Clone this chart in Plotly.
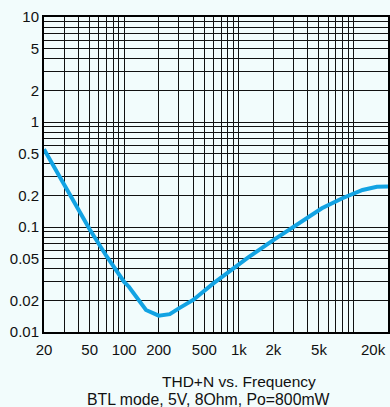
import math
import plotly.graph_objects as go

# Data
freq_hz = [20, 30, 40, 50, 70, 100, 110, 155, 200, 250, 300, 400, 600, 800,
           1200, 2000, 3000, 4000, 5300, 8000, 12000, 16000, 20000]
thd_pct = [0.55, 0.25, 0.148, 0.095, 0.053, 0.030, 0.027, 0.0162, 0.0143, 0.0148,
           0.0168, 0.0202, 0.029, 0.037, 0.051, 0.075, 0.100, 0.121, 0.151,
           0.188, 0.225, 0.242, 0.243]

x_tickvals = [20, 50, 100, 200, 500, 1000, 2000, 5000]
x_ticktext = ["20", "50", "100", "200", "500", "1k", "2k", "5k"]
x_end_label = "20k"
y_tickvals = [0.01, 0.02, 0.05, 0.1, 0.2, 0.5, 1, 2, 5, 10]
y_ticktext = ["0.01", "0.02", "0.05", "0.1", "0.2", "0.5", "1", "2", "5", "10"]
title_line1 = "THD+N vs. Frequency"
title_line2 = "BTL mode, 5V, 8Ohm, Po=800mW"

x_minor = [m * 10 ** d for d in range(1, 5) for m in range(1, 10) if 20 <= m * 10 ** d <= 20000]
y_minor = [m * 10 ** d for d in range(-2, 2) for m in range(1, 10) if 0.01 <= m * 10 ** d <= 10]

FONT = "Liberation Sans, Arial, sans-serif"
BG = "#f2fcfc"

fig = go.Figure()
fig.add_trace(go.Scatter(x=freq_hz, y=thd_pct, mode="lines",
                         line=dict(color="#12a3e3", width=4), showlegend=False,
                         hoverinfo="skip"))

fig.update_xaxes(type="log", range=[math.log10(20), math.log10(20000)],
                 tickvals=x_tickvals, ticktext=x_ticktext,
                 showgrid=False, zeroline=False,
                 showline=True, linecolor="#000", linewidth=2, mirror=True,
                 ticks="", ticklabelstandoff=3,
                 tickfont=dict(family=FONT, size=15, color="#111"),
                 minor=dict(tickvals=x_minor, showgrid=True, gridcolor="#111", gridwidth=1.3, ticks=""))
fig.update_yaxes(type="log", range=[-2, 1],
                 tickvals=y_tickvals, ticktext=y_ticktext,
                 showgrid=False, zeroline=False,
                 showline=True, linecolor="#000", linewidth=2, mirror=True,
                 ticks="", tickfont=dict(family=FONT, size=15, color="#111"),
                 minor=dict(tickvals=y_minor, showgrid=True, gridcolor="#111", gridwidth=1.3, ticks=""))

fig.add_annotation(x=math.log10(20000), y=0, xref="x", yref="paper",
                   text=x_end_label, showarrow=False, xanchor="right", yanchor="top",
                   yshift=-7, font=dict(family=FONT, size=15, color="#111"))
fig.add_annotation(x=0.5665, y=-0.1556, xref="paper", yref="paper", text=title_line1,
                   showarrow=False, xanchor="center", yanchor="middle",
                   font=dict(family=FONT, size=15.5, color="#111"))
fig.add_annotation(x=0.478, y=-0.2127, xref="paper", yref="paper", text=title_line2,
                   showarrow=False, xanchor="center", yanchor="middle",
                   font=dict(family=FONT, size=15.8, color="#111"))

fig.update_layout(width=390, height=407, margin=dict(l=44, r=0, t=17, b=75),
                  paper_bgcolor=BG, plot_bgcolor=BG)

fig.write_html("out.html")
